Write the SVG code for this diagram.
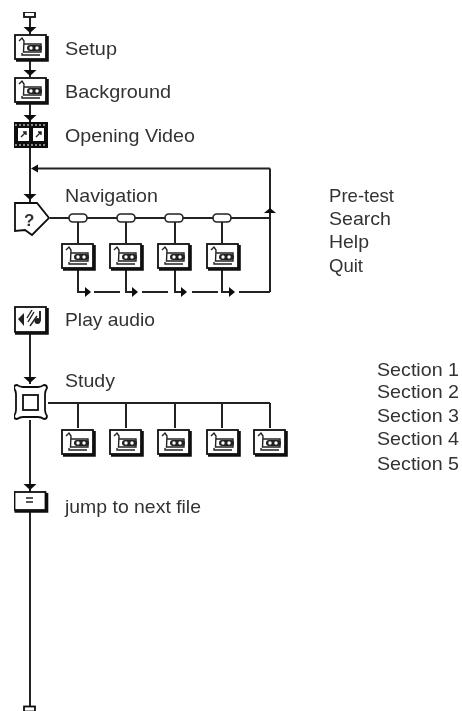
<svg xmlns="http://www.w3.org/2000/svg" xmlns:xlink="http://www.w3.org/1999/xlink" width="462" height="711" viewBox="0 0 462 711">
<style>
text{font-family:"Liberation Sans",Arial,sans-serif;font-size:19px;fill:#333}
.c{fill:none;stroke:#222;stroke-width:2}
.a{fill:#111;stroke:none}
.box{fill:#fff;stroke:#111;stroke-width:1.8}
.sh{fill:none;stroke:#111;stroke-width:2.6}
.i{fill:none;stroke:#222;stroke-width:1.4}
.f{fill:#222;stroke:none}
</style>
<defs>
<filter id="soft" x="0" y="0" width="100%" height="100%"><feGaussianBlur stdDeviation="0.5"/></filter>
<g id="mv">
<rect class="box" x="1" y="1" width="31" height="24"/>
<path class="sh" d="M2 26.500H33.500V2"/>
<path class="i" d="M5 7L8 4L10 7L9.500 18H27V10H10"/>
<rect class="f" x="13" y="11" width="15" height="6" rx="3"/>
<circle cx="17" cy="14" r="1.700" fill="#fff"/>
<circle cx="23" cy="14" r="1.700" fill="#fff"/>
<path class="i" d="M8 19V21H26"/>
</g>
<g id="pill"><rect x="-9" y="-4" width="18" height="8" rx="4" fill="#fff" stroke="#222" stroke-width="1.600"/></g>
<path id="ad" class="a" d="M-6.500 0H6.500L0 6Z"/>
</defs>
<g filter="url(#soft)">
<g id="connectors">
<path class="c" d="M30 17V35M30 60V77M30 103V122M30 148V204"/>
<path class="c" d="M270 168.500H33M50 218H270M270 292V168.500"/>
<path class="c" d="M78 222V243M126 222V243M175 222V243M222 222V243"/>
<path class="c" d="M78 270V292H86M126 270V292H134M175 270V292H183M222 270V292H231"/>
<path class="c" d="M94 292H120M142 292H168M192 292H218M239 292H270"/>
<path class="c" d="M30 334V384M48 403H270M78 403V428M126 403V428M175 403V428M222 403V428M270 403V428"/>
<path class="c" d="M30 420V492M30 512V706"/>
<use href="#ad" x="30" y="27"/><use href="#ad" x="30" y="70"/><use href="#ad" x="30" y="115"/><use href="#ad" x="30" y="194"/>
<use href="#ad" x="30" y="377"/><use href="#ad" x="30" y="484"/>
<path class="a" d="M31 168.500L38 164.500V172.500Z"/>
<path class="a" d="M270 208L276 213H264Z"/>
<path class="a" d="M91 292L85 287V297Z"/><path class="a" d="M138 292L132 287V297Z"/><path class="a" d="M187 292L181 287V297Z"/><path class="a" d="M235 292L229 287V297Z"/>
</g>
<g id="start"><rect class="box" x="24" y="12" width="11" height="5"/></g>
<g id="setup"><use href="#mv" x="14" y="34"/><text x="65" y="55" textLength="52" lengthAdjust="spacingAndGlyphs">Setup</text></g>
<g id="background"><use href="#mv" x="14" y="77"/><text x="65" y="98" textLength="106" lengthAdjust="spacingAndGlyphs">Background</text></g>
<g id="opening-video">
<rect x="14" y="122" width="34" height="26" fill="#111"/>
<rect x="18" y="128" width="11" height="13" fill="#fff"/><rect x="33" y="128" width="11" height="13" fill="#fff"/>
<path class="i" d="M21 137L26 132M23 132H26V135M36 137L41 132M38 132H41V135"/>
<path d="M15 125H47M15 145H47" stroke="#fff" stroke-width="1.200" stroke-dasharray="2 2"/>
<text x="65" y="142" textLength="130" lengthAdjust="spacingAndGlyphs">Opening Video</text>
</g>
<g id="navigation">
<path class="box" d="M15 203H37L49 218L32 235L25 230L15 231Z" stroke-width="2.200"/>
<text x="24" y="226" style="font-size:17px;font-weight:bold">?</text>
<text x="65" y="202" textLength="93" lengthAdjust="spacingAndGlyphs">Navigation</text>
</g>
<g id="nav-options"><use href="#pill" x="78" y="218"/><use href="#pill" x="126" y="218"/><use href="#pill" x="174" y="218"/><use href="#pill" x="222" y="218"/></g>
<g id="nav-1"><use href="#mv" x="61" y="243"/></g>
<g id="nav-2"><use href="#mv" x="109" y="243"/></g>
<g id="nav-3"><use href="#mv" x="157" y="243"/></g>
<g id="nav-4"><use href="#mv" x="206" y="243"/></g>
<g id="nav-labels">
<text x="329" y="202" textLength="65" lengthAdjust="spacingAndGlyphs">Pre-test</text>
<text x="329" y="225" textLength="62" lengthAdjust="spacingAndGlyphs">Search</text>
<text x="329" y="248" textLength="40" lengthAdjust="spacingAndGlyphs">Help</text>
<text x="329" y="272" textLength="34" lengthAdjust="spacingAndGlyphs">Quit</text>
</g>
<g id="play-audio">
<rect class="box" x="15" y="307" width="31" height="25"/><path class="sh" d="M15 333.500H47.500V308"/>
<path class="f" d="M18 319L24 313V326Z"/>
<path class="i" d="M28 322L34 312M30 326L37 316M27 318L32 310"/>
<path d="M40 311V321" stroke="#111" stroke-width="1.800"/><circle class="f" cx="37.500" cy="321" r="3"/>
<text x="65" y="326" textLength="90" lengthAdjust="spacingAndGlyphs">Play audio</text>
</g>
<g id="study">
<path class="box" d="M17 385Q20 387 23 387H38Q41 387 44 385Q47 385 47 388Q45 391 45 394V410Q45 413 47 416Q47 419 44 419Q41 417 38 417H23Q20 417 17 419Q14 419 14 416Q16 413 16 410V394Q16 391 14 388Q14 385 17 385Z" stroke-width="2.400"/>
<rect x="23" y="395" width="15" height="15" fill="#fff" stroke="#111" stroke-width="1.800"/>
<text x="65" y="387" textLength="50" lengthAdjust="spacingAndGlyphs">Study</text>
</g>
<g id="study-1"><use href="#mv" x="61" y="429"/></g>
<g id="study-2"><use href="#mv" x="109" y="429"/></g>
<g id="study-3"><use href="#mv" x="157" y="429"/></g>
<g id="study-4"><use href="#mv" x="206" y="429"/></g>
<g id="study-5"><use href="#mv" x="253" y="429"/></g>
<g id="study-labels">
<text x="377" y="376" textLength="82" lengthAdjust="spacingAndGlyphs">Section 1</text>
<text x="377" y="398" textLength="82" lengthAdjust="spacingAndGlyphs">Section 2</text>
<text x="377" y="422" textLength="82" lengthAdjust="spacingAndGlyphs">Section 3</text>
<text x="377" y="445" textLength="82" lengthAdjust="spacingAndGlyphs">Section 4</text>
<text x="377" y="470" textLength="82" lengthAdjust="spacingAndGlyphs">Section 5</text>
</g>
<g id="jump">
<rect class="box" x="14.500" y="492" width="31" height="18"/><path class="sh" d="M14.500 511.500H47V493"/>
<path d="M26 498H33M26 502H33" stroke="#222" stroke-width="1.300"/>
<text x="65" y="513" textLength="136" lengthAdjust="spacingAndGlyphs">jump to next file</text>
</g>
<g id="end"><rect class="box" x="24" y="706.500" width="11" height="5"/></g>
</g>
</svg>
